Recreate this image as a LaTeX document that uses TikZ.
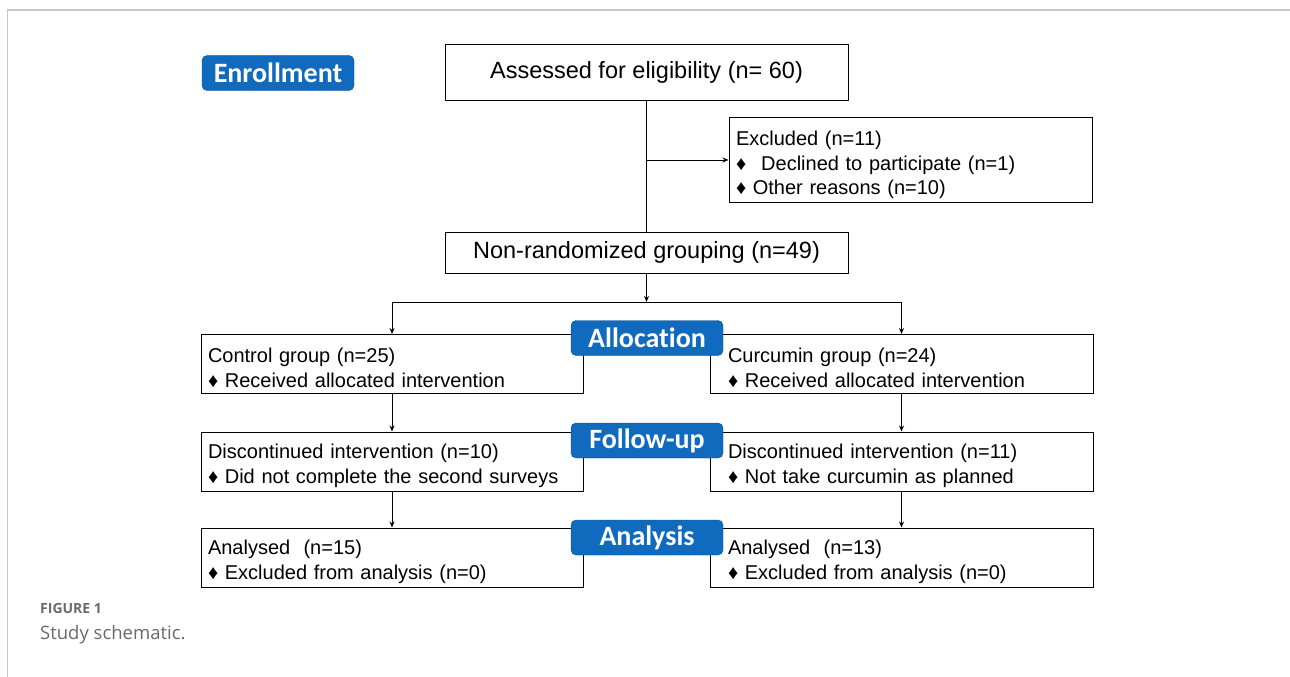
\documentclass[tikz,border=0pt]{standalone}
\usepackage{fontspec}
\setmainfont{Liberation Sans}
\newfontfamily\badgefont[Ligatures=NoCommon]{Carlito}
\newfontfamily\capfont{Open Sans}
\definecolor{flowblue}{RGB}{16,106,190}
\definecolor{framegray}{RGB}{200,200,200}
\definecolor{capgray}{RGB}{105,105,105}
\usetikzlibrary{arrows.meta,positioning,calc}

\begin{document}
\begin{tikzpicture}[x=1pt,y=-1pt,
  box/.style={draw,line width=1pt,minimum height=59pt,text width=368pt,inner xsep=7pt,align=left,font=\fontsize{20}{25}\selectfont},
  rbox/.style={box,text width=347pt,inner xsep=18pt},
  bigbox/.style={draw,line width=1pt,minimum width=403pt,inner sep=0pt,font=\fontsize{23.5}{28}\selectfont},
  stage/.style={draw=flowblue!75!black,fill=flowblue,rounded corners=5pt,text=white,minimum width=152pt,minimum height=35pt,inner sep=0pt,font=\badgefont\bfseries\fontsize{28}{32}\selectfont},
  arr/.style={-{Stealth[length=6pt,width=5pt]},line width=1pt}]
  \useasboundingbox (0,0) rectangle (1290,677);
  \draw[framegray,line width=1.5pt] (7.5,677) -- (7.5,10) -- (1290,10);
  % enrollment
  \node[bigbox,minimum height=55pt] (assess) at (646.5,72.5) {Assessed for eligibility (n= 60)};
  \node[box,text width=349pt,minimum height=84pt,font=\fontsize{20}{24.5}\selectfont] (excl) at (910.5,160) {\rule{0pt}{25pt}Excluded (n=11)\\ ♦\hspace{15pt}Declined to participate (n=1)\\ ♦ Other reasons (n=10)};
  \node[bigbox,minimum height=41pt] (nonrand) at (646.5,252.5) {Non-randomized grouping (n=49)};
  \coordinate (exbr) at (646.5,160);
  \coordinate (split) at (646.5,302);
  % groups
  \node[box] (ctrl) at (392,364) {\rule{0pt}{23pt}Control group (n=25)\\ ♦ Received allocated intervention};
  \node[rbox] (cur) at (901.5,364) {\rule{0pt}{23pt}Curcumin group (n=24)\\ ♦ Received allocated intervention};
  \node[box] (disc1) at (392,461.5) {\rule{0pt}{23pt}Discontinued intervention (n=10)\\ ♦ Did not complete the second surveys};
  \node[rbox] (disc2) at (901.5,461.5) {\rule{0pt}{23pt}Discontinued intervention (n=11)\\ ♦ Not take curcumin as planned};
  \node[box] (ana1) at (392,557.5) {\rule{0pt}{23pt}Analysed\ \ (n=15)\\ ♦ Excluded from analysis (n=0)};
  \node[rbox] (ana2) at (901.5,557.5) {\rule{0pt}{23pt}Analysed\ \ (n=13)\\ ♦ Excluded from analysis (n=0)};
  \draw[line width=1pt] (assess) -- (nonrand);
  \draw[arr] (exbr) -- (excl.west);
  \draw[arr] (nonrand) -- (split);
  \draw[arr] (split) -| (ctrl.north);
  \draw[arr] (split) -| (cur.north);
  \draw[arr] (ctrl) -- (disc1);
  \draw[arr] (cur) -- (disc2);
  \draw[arr] (disc1) -- (ana1);
  \draw[arr] (disc2) -- (ana2);
  % stage labels
  \node[stage] (enrol) at (278,73) {Enrollment};
  \node[stage] (alloc) at (647,338) {Allocation};
  \node[stage] (follow) at (647,440.5) {Follow-up};
  \node[stage] (analysis) at (647,537.5) {Analysis};
  % caption
  \node[anchor=base west,inner sep=0pt,text=capgray,font=\capfont\bfseries\fontsize{14}{16}\selectfont] (fig) at (40,613) {FIGURE 1};
  \node[anchor=base west,inner sep=0pt,text=capgray,font=\capfont\fontsize{18.5}{22}\selectfont] (cap) at (40,639) {Study schematic.};
\end{tikzpicture}
\end{document}
